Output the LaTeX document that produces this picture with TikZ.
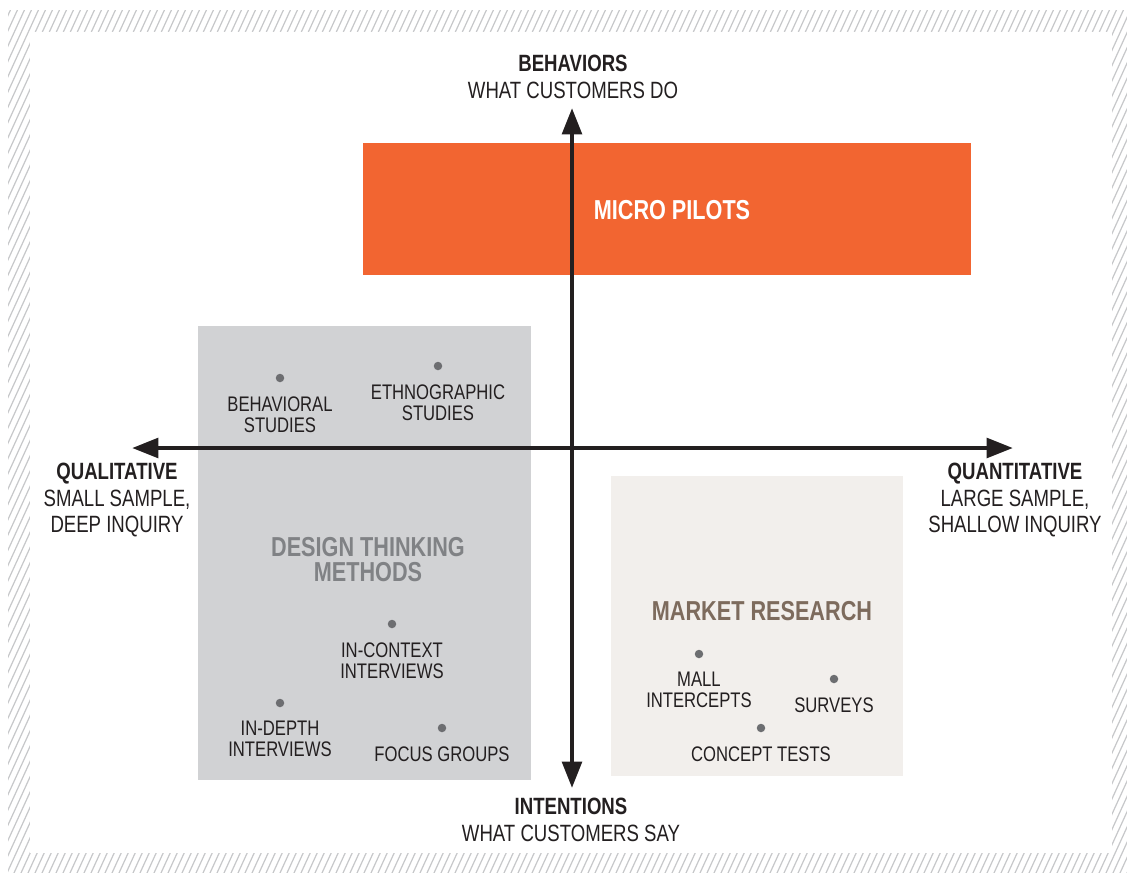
\documentclass[tikz,border=0pt]{standalone}
\usepackage{fontspec}
\setmainfont[FakeStretch=0.79]{Liberation Sans}
\usetikzlibrary{arrows.meta}
\definecolor{ink}{HTML}{231F20}
\definecolor{pilot}{HTML}{F26531}
\definecolor{dtbox}{HTML}{D1D2D4}
\definecolor{dttext}{HTML}{808285}
\definecolor{mrbox}{HTML}{F2EFEC}
\definecolor{mrtext}{HTML}{7D6B5D}
\definecolor{dotgray}{HTML}{6D6E71}
\definecolor{hatchgray}{HTML}{C7C8CA}
\tikzset{>={Triangle[length=15pt,width=11pt]}}

\begin{document}
\begin{tikzpicture}[x=0.02cm, y=-0.02cm,
    axis/.style={ink, line width=2.6pt},
    pole/.style={ink, align=center, inner sep=0, font=\fontsize{13.4}{15.3}\selectfont},
    group/.style={align=center, inner sep=0, font=\fontsize{15.6}{14.2}\selectfont\bfseries},
    dot/.style={circle, fill=dotgray, minimum size=0.17cm, inner sep=0},
    item/.style={ink, align=center, anchor=north, inner sep=0, font=\fontsize{12}{11.95}\selectfont}]
    \useasboundingbox (0,0) rectangle (1127,873);

    % hatched frame
    \begin{scope}
        \clip (8,10) rectangle (1127,873);
        \foreach \i in {-420,-413,...,1130}
            \draw[hatchgray, line width=0.7pt] (\i,873) -- ++(400,-873);
    \end{scope}
    \fill[white] (30,32) rectangle (1112,853);

    % boxes
    \fill[pilot] (363,143) rectangle (971,275);
    \fill[dtbox] (198,326) rectangle (531,780);
    \fill[mrbox] (611,476) rectangle (903,776);

    % axes
    \coordinate (top) at (572,108);
    \coordinate (bottom) at (572,788);
    \coordinate (left) at (132,448);
    \coordinate (right) at (1013,448);
    \draw[axis, <->] (bottom) -- (top);
    \draw[axis, <->] (left) -- (right);

    \node[pole] (behav) at (573,76.5) {\textbf{BEHAVIORS}\\WHAT CUSTOMERS DO};
    \node[pole] (inten) at (571,819.5) {\textbf{INTENTIONS}\\WHAT CUSTOMERS SAY};
    \node[pole] (quali) at (117,500) {\textbf{QUALITATIVE}\\SMALL SAMPLE,\\DEEP INQUIRY};
    \node[pole] (quanti) at (1015,500) {\textbf{QUANTITATIVE}\\LARGE SAMPLE,\\SHALLOW INQUIRY};

    \node[group, white] (pilots) at (672,210) {MICRO PILOTS};
    \node[group, dttext] (design) at (368,559.5) {DESIGN THINKING\\METHODS};
    \node[group, mrtext] (market) at (762,611) {MARKET RESEARCH};

    % methods: dot with its label under it
    \foreach \n/\x/\y/\txt in {bs/280/378/{BEHAVIORAL\\STUDIES},
        es/438/366/{ETHNOGRAPHIC\\STUDIES},
        ic/392/624/{IN-CONTEXT\\INTERVIEWS},
        id/280/703/{IN-DEPTH\\INTERVIEWS},
        fg/442/728/{FOCUS GROUPS},
        mi/699/654/{MALL\\INTERCEPTS},
        sv/834/679/{SURVEYS},
        ct/761/728/{CONCEPT TESTS}}{
        \node[dot] (d-\n) at (\x,\y) {};
        \node[item] (t-\n) at (\x,\y+18) {\txt};
    }
\end{tikzpicture}
\end{document}
